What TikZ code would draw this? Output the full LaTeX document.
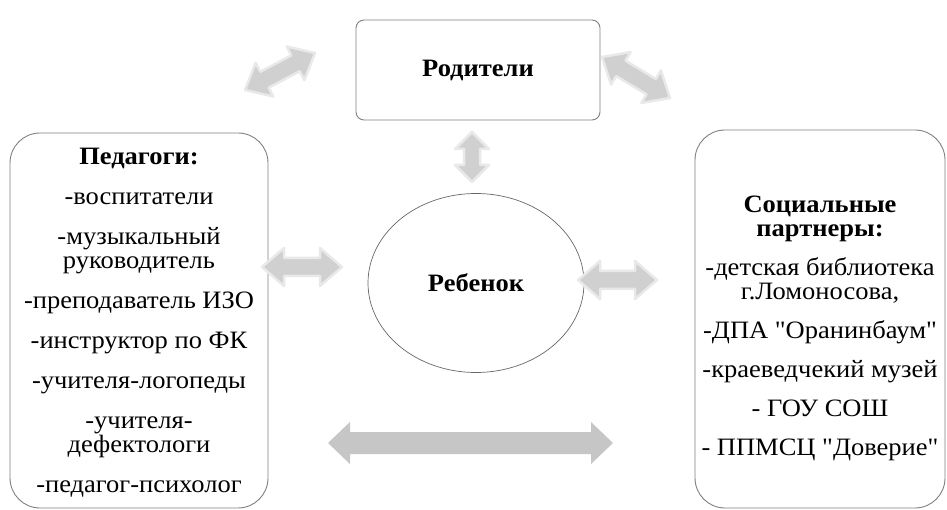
\documentclass[tikz,border=0pt]{standalone}
\usepackage{fontspec}
\setmainfont{Liberation Serif}[Ligatures=TeXOff,FakeStretch=1.06]
\usetikzlibrary{calc,shapes.geometric}

\definecolor{framegray}{HTML}{808080}
\definecolor{arrowgray}{HTML}{D0D0D0}
\definecolor{arrowrim}{HTML}{E9E9E9}

% block arrow with a head at both ends, drawn from start to target
\tikzset{
  headlen/.store in=\headlen, headwid/.store in=\headwid,
  shaftwid/.store in=\shaftwid,
  headlen=22pt, headwid=19pt, shaftwid=9pt,
  twoway/.style={fill=arrowgray, draw=arrowrim, line width=2.5pt,
    line join=round,
    to path={
      -- ($(\tikztostart)!\headlen!(\tikztotarget)!\headwid!90:(\tikztotarget)$)
      -- ($(\tikztostart)!\headlen!(\tikztotarget)!\shaftwid!90:(\tikztotarget)$)
      -- ($(\tikztotarget)!\headlen!(\tikztostart)!\shaftwid!-90:(\tikztostart)$)
      -- ($(\tikztotarget)!\headlen!(\tikztostart)!\headwid!-90:(\tikztostart)$)
      -- (\tikztotarget)
      -- ($(\tikztotarget)!\headlen!(\tikztostart)!\headwid!90:(\tikztostart)$)
      -- ($(\tikztotarget)!\headlen!(\tikztostart)!\shaftwid!90:(\tikztostart)$)
      -- ($(\tikztostart)!\headlen!(\tikztotarget)!\shaftwid!-90:(\tikztotarget)$)
      -- ($(\tikztostart)!\headlen!(\tikztotarget)!\headwid!-90:(\tikztotarget)$)
      -- cycle}},
  group/.style={draw=framegray, line width=0.9pt, rounded corners=30pt},
  list/.style={align=center, inner sep=0pt},
}

\begin{document}
\begin{tikzpicture}[x=1pt,y=-1pt,font=\fontsize{25}{24}\selectfont]
  \useasboundingbox (0,0) rectangle (947,510);

  \node[draw=framegray, line width=0.9pt, rounded corners=8pt,
    minimum width=244pt, minimum height=100pt] (parents) at (478,70)
    {\textbf{Родители}};

  \node[ellipse, draw=black!60, line width=0.7pt, minimum width=216pt,
    minimum height=179pt] (child) at (476,283) {\textbf{Ребенок}};

  \node[group, minimum width=258pt, minimum height=375pt] (teachers)
    at (139,320.5) {};
  \node[list] (teacherlist) at (139,323) {\textbf{Педагоги:}\\[16pt]
      -воспитатели\\[16pt]
      -музыкальный\\руководитель\\[16pt]
      -преподаватель ИЗО\\[16pt]
      -инструктор по ФК\\[16pt]
      -учителя-логопеды\\[16pt]
      -учителя-\\дефектологи\\[16pt]
      -педагог-психолог};

  \node[group, minimum width=250pt, minimum height=378pt] (partners)
    at (820,319) {};
  \node[list] (partnerlist) at (820,328.5)
    {\textbf{Социальные}\\\textbf{партнеры:}\\[15pt]
      -детская библиотека\\г.Ломоносова,\\[15pt]
      -ДПА "Оранинбаум"\\[15pt]
      -краеведчекий музей\\[15pt]
      - ГОУ СОШ\\[15pt]
      - ППМСЦ "Доверие"};

  % arrow ends
  \coordinate (pt1) at (245,90);
  \coordinate (pt2) at (315,53);
  \coordinate (pp1) at (602,57);
  \coordinate (pp2) at (670,98);
  \coordinate (pc1) at (472,132);
  \coordinate (pc2) at (472,182);
  \coordinate (tc1) at (262,267);
  \coordinate (tc2) at (342,267);
  \coordinate (cp1) at (578,280);
  \coordinate (cp2) at (657,280);
  \coordinate (tp1) at (328,443);
  \coordinate (tp2) at (613,443);

  \path[twoway] (pt1) to (pt2);
  \path[twoway] (pp1) to (pp2);
  \path[twoway, headlen=17pt, headwid=17pt, shaftwid=8pt] (pc1) to (pc2);
  \path[twoway] (tc1) to (tc2);
  \path[twoway] (cp1) to (cp2);
  \path[twoway, draw=none, fill=arrowgray!95!black, shaftwid=11pt,
    headwid=21pt] (tp1) to (tp2);
\end{tikzpicture}
\end{document}
